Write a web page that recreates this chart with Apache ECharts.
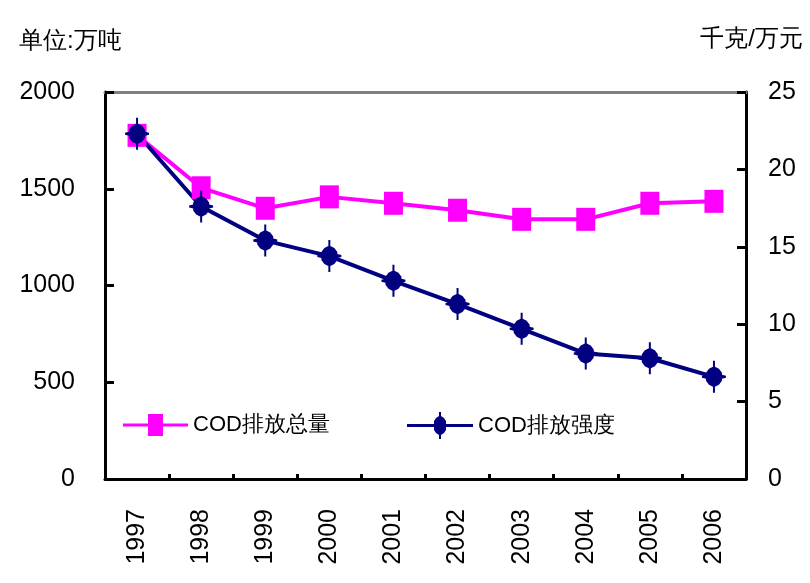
<!DOCTYPE html>
<html><head><meta charset="utf-8">
<script src="https://cdn.jsdelivr.net/npm/echarts@6/dist/echarts.min.js"></script>
<style>html,body{margin:0;padding:0;background:#fff}#c{width:810px;height:583px}</style>
</head><body><div id="c"></div>
<script>
var categories = ['1997','1998','1999','2000','2001','2002','2003','2004','2005','2006'];
var totalEmission = [1776, 1505, 1399, 1458, 1425, 1389, 1342, 1342, 1425, 1435];
var emissionIntensity = [22.3, 17.6, 15.4, 14.4, 12.8, 11.3, 9.7, 8.1, 7.8, 6.6];
var leftTicks = [0, 500, 1000, 1500, 2000];
var rightTicks = [0, 5, 10, 15, 20, 25];
var seriesNames = ['COD排放总量', 'COD排放强度'];
var leftTitle = '单位:万吨';
var rightTitle = '千克/万元';

var starPath = 'path://M11,0 L13,0 L13,6 L17,8 L20,12 L20,14 L24,15 L24,17 L20,18 L20,20 L17,24 L13,26 L13,32 L11,32 L11,26 L7,24 L4,20 L4,18 L0,17 L0,15 L4,14 L4,12 L7,8 L11,6 Z';
var legendPink = 'path://M0,9.5 L25,9.5 L25,0 L40,0 L40,9.5 L65,9.5 L65,12.5 L40,12.5 L40,22 L25,22 L25,12.5 L0,12.5 Z';
var legendNavy = 'path://M0,12 L27,12 L27,9 L29,6 L32,4 L32,0 L34,0 L34,4 L37,6 L39,9 L39,12 L66,12 L66,15 L39,15 L39,18 L37,21 L34,23 L34,27 L32,27 L32,23 L29,21 L27,18 L27,15 L0,15 Z';

var chart = echarts.init(document.getElementById('c'), null, {renderer: 'canvas'});
var font = 'Liberation Sans, Arial, sans-serif';
chart.setOption({
  animation: false,
  backgroundColor: '#fff',
  textStyle: {fontFamily: font},
  title: [
    {text: leftTitle, left: 14, top: 24, textStyle: {fontSize: 24, fontWeight: 'normal', color: '#000', fontFamily: font}},
    {text: rightTitle, right: 2, top: 22, textStyle: {fontSize: 24, fontWeight: 'normal', color: '#000', fontFamily: font}}
  ],
  grid: {left: 105, right: 64, top: 92, bottom: 104, containLabel: false},
  legend: [
    {data: [{name: seriesNames[0], icon: legendPink}], left: 118, top: 409, itemWidth: 65, itemHeight: 22, itemGap: 6,
     textStyle: {fontSize: 22, color: '#000', fontFamily: font}},
    {data: [{name: seriesNames[1], icon: legendNavy}], left: 402, top: 407, itemWidth: 66, itemHeight: 27, itemGap: 2,
     textStyle: {fontSize: 22, color: '#000', fontFamily: font}}
  ],
  xAxis: [
    {type: 'category', data: categories, boundaryGap: true, position: 'bottom',
     axisLine: {onZero: false, lineStyle: {color: '#000', width: 3}},
     axisTick: {show: true, inside: true, length: 5, lineStyle: {color: '#000', width: 3}},
     axisLabel: {rotate: 90, margin: 30, fontSize: 25, color: '#000', fontFamily: font}},
    {type: 'category', data: categories, position: 'top',
     axisLine: {show: true, onZero: false, lineStyle: {color: '#808080', width: 3}},
     axisTick: {show: false}, axisLabel: {show: false}}
  ],
  yAxis: [
    {type: 'value', min: leftTicks[0], max: leftTicks[leftTicks.length - 1], interval: 500, position: 'left',
     axisLine: {show: true, lineStyle: {color: '#000', width: 3}},
     axisTick: {show: true, inside: true, length: 9, lineStyle: {color: '#000', width: 3}},
     splitLine: {show: false},
     axisLabel: {margin: 30, fontSize: 25, color: '#000', fontFamily: font, formatter: function (v) { return String(v); }}},
    {type: 'value', min: rightTicks[0], max: rightTicks[rightTicks.length - 1], interval: 5, position: 'right',
     axisLine: {show: true, lineStyle: {color: '#000', width: 3}},
     axisTick: {show: true, inside: true, length: 9, lineStyle: {color: '#000', width: 3}},
     splitLine: {show: false},
     axisLabel: {margin: 22, fontSize: 25, color: '#000', fontFamily: font, formatter: function (v) { return String(v); }}}
  ],
  series: [
    {name: seriesNames[0], type: 'line', yAxisIndex: 0, data: totalEmission,
     symbol: 'rect', symbolSize: [19, 23],
     lineStyle: {color: '#FF00FF', width: 4}, itemStyle: {color: '#FF00FF'}},
    {name: seriesNames[1], type: 'line', yAxisIndex: 1, data: emissionIntensity,
     symbol: starPath, symbolSize: [24, 32],
     lineStyle: {color: '#000080', width: 4}, itemStyle: {color: '#000080'}}
  ]
});
</script></body></html>
